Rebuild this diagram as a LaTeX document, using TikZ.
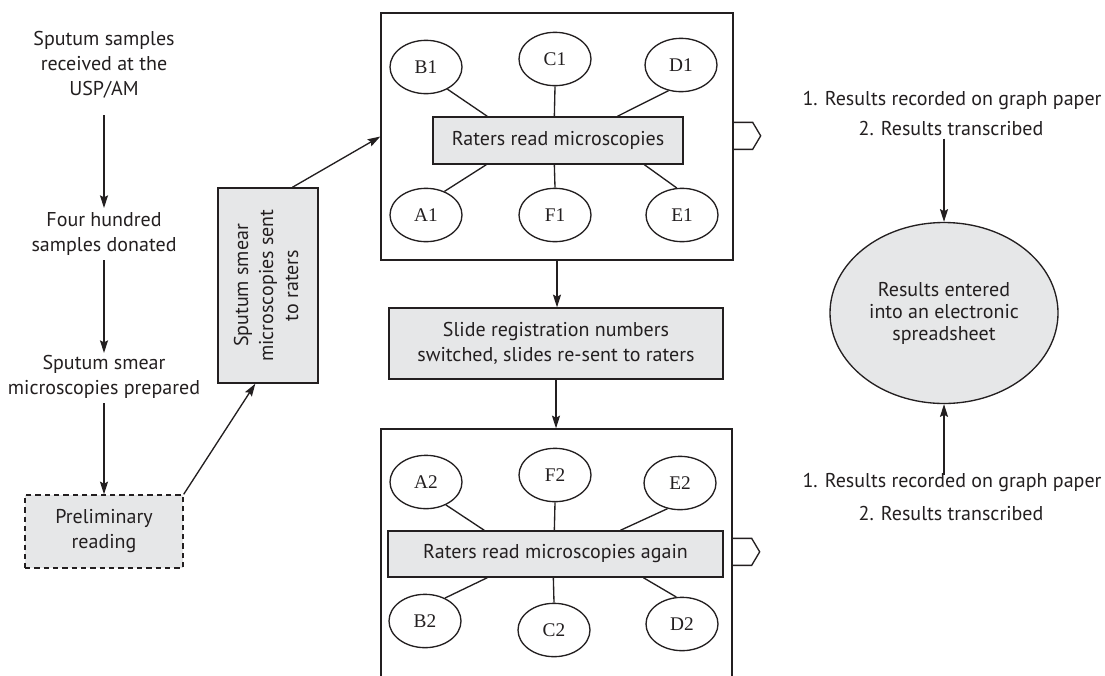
\documentclass[tikz,border=0pt]{standalone}
\usepackage{fontspec}
\setmainfont{PT Sans}
\newfontfamily\lblfont{Liberation Serif}
\usetikzlibrary{arrows.meta,calc,shapes.geometric}
\definecolor{boxgray}{RGB}{230,231,232}
\definecolor{ink}{RGB}{35,31,32}
\tikzset{
  txt/.style={font=\fontsize{15}{18.75}\selectfont, text=ink, align=center, inner sep=0pt},
  graybox/.style={draw=ink, fill=boxgray, line width=1pt, inner sep=0pt, font=\fontsize{15}{18.75}\selectfont, text=ink, align=center},
  bigbox/.style={draw=ink, line width=1pt, inner sep=0pt},
  rater/.style={ellipse, draw=ink, line width=1pt, inner sep=0pt, minimum width=54pt, minimum height=40pt, font=\lblfont\fontsize{14.5}{16}\selectfont, text=ink},
  arr/.style={draw=ink, line width=1pt, -{Stealth[length=9.5pt,width=6pt,inset=1.5pt]}},
  link/.style={draw=ink, line width=1pt},
}
\begin{document}
\begin{tikzpicture}[x=0.75pt,y=-0.75pt]
\useasboundingbox (0,0) rectangle (1105,675);
\clip (0,0) rectangle (1105,675);
\fill[white] (0,0) rectangle (1105,675);

% left column
\node[txt] (t1) at (104,65) {Sputum samples\\received at the\\USP/AM};
\node[txt] (t2) at (104,234) {Four hundred\\samples donated};
\node[txt] (t3) at (104,377) {Sputum smear\\microscopies prepared};
\node[graybox, dash pattern=on 4pt off 3pt, minimum width=118.5pt, minimum height=54.75pt] (pre) at (104,531.5) {Preliminary\\reading};

\coordinate (a1s) at (104,115);
\coordinate (a1e) at (104,208);
\coordinate (a2s) at (104,260);
\coordinate (a2e) at (104,353);
\coordinate (a3s) at (104,403);
\draw[arr] (a1s) -- (a1e);
\draw[arr] (a2s) -- (a2e);
\draw[arr] (a3s) -- (pre.north);

% rotated box
\node[graybox, minimum width=75pt, minimum height=146.25pt] (sent) at (268,285.5)
  {\rotatebox{90}{\begin{tabular}{@{}c@{}}Sputum smear\\[0pt]microscopies sent\\[0pt]to raters\end{tabular}}};
\draw[arr] (pre.north east) -- ($(sent.south west)+(38,0)$);

% box 1
\node[bigbox, minimum width=264pt, minimum height=185.25pt] (box1) at (557,136.5) {};
\draw[link] ($(box1.north east)+(0,110)$) -- ++(19,0) -- ++(8,13.5) -- ++(-8,13.5) -- ++(-19,0);
\draw[arr] ($(sent.north west)+(75,0)$) -- (box1.west);

\node[graybox, minimum width=187.5pt, minimum height=35.25pt] (R1) at (558,140.5) {Raters read microscopies};
\node[rater] (B1) at (426,67) {B1};
\node[rater] (C1) at (555,59) {C1};
\node[rater] (D1) at (681,65) {D1};
\node[rater] (A1) at (426,215) {A1};
\node[rater] (F1) at (555,215) {F1};
\node[rater] (E1) at (682,215) {E1};
\draw[link] (B1.-46) -- ($(R1.north west)+(55,0)$);
\draw[link] (C1.-90) -- ($(R1.north west)+(122,0)$);
\draw[link] (D1.-116) -- ($(R1.north west)+(185,0)$);
\draw[link] (A1.52) -- ($(R1.south west)+(54,0)$);
\draw[link] (F1.90) -- ($(R1.south west)+(122,0)$);
\draw[link] (E1.101) -- ($(R1.south west)+(212,0)$);

% middle box
\node[graybox, minimum width=250.5pt, minimum height=53.25pt] (S) at (556,343.5) {Slide registration numbers\\switched, slides re-sent to raters};
\draw[arr] (box1.south) -- (box1.south |- S.north);

% box 2
\node[bigbox, minimum width=263.25pt, minimum height=195pt] (box2) at (556.5,559) {};
\draw[link] ($(box2.north east)+(0,110)$) -- ++(19,0) -- ++(8,13.5) -- ++(-8,13.5) -- ++(-19,0);
\draw[arr] (S.south) -- (S.south |- box2.north);

\node[graybox, minimum width=251.25pt, minimum height=34.5pt] (R2) at (555.5,554) {Raters read microscopies again};
\node[rater] (A2) at (426,482) {A2};
\node[rater] (F2) at (555,475) {F2};
\node[rater] (E2) at (680,483) {E2};
\node[rater] (B2) at (425,621) {B2};
\node[rater] (C2) at (554,630) {C2};
\node[rater] (D2) at (682,624) {D2};
\draw[link] (A2.-49) -- ($(R2.north west)+(97,0)$);
\draw[link] (F2.-90) -- ($(R2.north west)+(167,0)$);
\draw[link] (E2.-116) -- ($(R2.north west)+(233,0)$);
\draw[link] (B2.49) -- ($(R2.south west)+(100,0)$);
\draw[link] (C2.90) -- ($(R2.south west)+(166,0)$);
\draw[link] (D2.102) -- ($(R2.south west)+(256,0)$);

% right side
\node[txt] (r1) at (952,100) {1. Results recorded on graph paper};
\node[txt] (r2) at (951,128) {2. Results transcribed};
\node[ellipse, draw=ink, fill=boxgray, line width=1pt, inner sep=0pt, minimum width=171pt, minimum height=135.75pt,
  font=\fontsize{15}{16.5}\selectfont, text=ink, align=center] (res) at (944,313) {Results entered\\into an electronic\\spreadsheet};
\node[txt] (r3) at (952,482) {1. Results recorded on graph paper};
\node[txt] (r4) at (951,513) {2. Results transcribed};
\draw[arr] ($(r2.south -| res.north)+(0,3)$) -- (res.north);
\draw[arr] ($(r3.center -| res.south)+(0,-7)$) -- (res.south);
\end{tikzpicture}
\end{document}
